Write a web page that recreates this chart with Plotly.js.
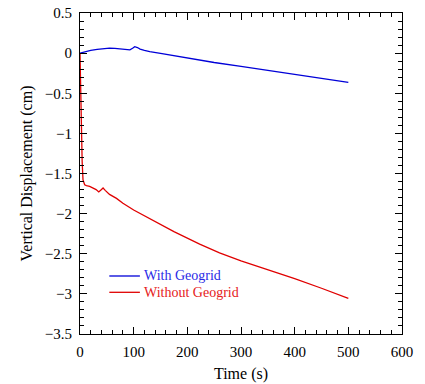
<!DOCTYPE html>
<html>
<head>
<meta charset="utf-8">
<script src="https://cdn.plot.ly/plotly-3.0.1.min.js"></script>
<style>html,body{margin:0;padding:0;background:#fff;}#chart{width:425px;height:384px;}</style>
</head>
<body>
<div id="chart"></div>
<script>
// Time (s) and vertical displacement (cm)
var timeWith = [0, 5, 10, 20, 32, 45, 55, 65, 75, 85, 93, 98, 102, 107, 112, 120, 130, 150, 175, 200, 223, 250, 300, 350, 400, 450, 500];
var dispWith = [0, 0.01, 0.02, 0.035, 0.047, 0.058, 0.062, 0.06, 0.05, 0.045, 0.04, 0.06, 0.08, 0.07, 0.05, 0.035, 0.018, -0.002, -0.032, -0.065, -0.09, -0.117, -0.166, -0.216, -0.265, -0.315, -0.364];

var timeWithout = [0, 1, 2.5, 4, 5.6, 8.7, 12, 18, 30, 35, 40, 43, 47, 55, 68, 80, 100, 130, 175, 223, 260, 300, 350, 400, 450, 500];
var dispWithout = [0, -0.4, -1.08, -1.35, -1.58, -1.64, -1.65, -1.66, -1.70, -1.73, -1.70, -1.68, -1.71, -1.76, -1.81, -1.87, -1.955, -2.06, -2.225, -2.38, -2.49, -2.59, -2.70, -2.81, -2.93, -3.055];

var seriesNames = ['With Geogrid', 'Without Geogrid'];
var seriesColors = ['#0000d8', '#e00000'];
var textColors = ['#2a2ae6', '#e62020'];

var font = 'Liberation Serif';

var traces = [
  {x: timeWith, y: dispWith, mode: 'lines', line: {color: seriesColors[0], width: 1.3}, name: seriesNames[0]},
  {x: timeWithout, y: dispWithout, mode: 'lines', line: {color: seriesColors[1], width: 1.3}, name: seriesNames[1]}
];

// legend drawn as keys + labels (paper coordinates)
var legendRows = [0.1807, 0.1299];
var shapes = [], annotations = [];
for (var i = 0; i < seriesNames.length; i++) {
  shapes.push({type: 'line', xref: 'paper', yref: 'paper', x0: 0.091, x1: 0.186,
               y0: legendRows[i], y1: legendRows[i], line: {color: seriesColors[i], width: 1.3}});
  annotations.push({xref: 'paper', yref: 'paper', x: 0.195, y: legendRows[i], xanchor: 'left', yanchor: 'middle',
                    showarrow: false, borderpad: 0, text: seriesNames[i],
                    font: {family: font, size: 14, color: textColors[i]}});
}

var axisCommon = {
  showgrid: false, zeroline: false, showline: true, linecolor: '#000', linewidth: 1,
  mirror: 'ticks', ticks: 'inside', ticklen: 7, tickwidth: 1, tickcolor: '#000',
  ticklabelstandoff: 4,
  tickfont: {family: font, size: 15, color: '#000'}
};

var layout = {
  width: 425, height: 384,
  margin: {l: 80, r: 23, t: 13, b: 50},
  paper_bgcolor: '#fff', plot_bgcolor: '#fff',
  font: {family: font, color: '#000'},
  showlegend: false,
  shapes: shapes,
  annotations: annotations,
  xaxis: Object.assign({}, axisCommon, {
    range: [0, 600], tick0: 0, dtick: 100,
    minor: {dtick: 20, ticklen: 4, tickwidth: 1, tickcolor: '#000', ticks: 'inside'},
    title: {text: 'Time (s)', font: {family: font, size: 16, color: '#000'}, standoff: 8}
  }),
  yaxis: Object.assign({}, axisCommon, {
    range: [-3.5, 0.5], tick0: 0, dtick: 0.5,
    minor: {dtick: 0.1, ticklen: 4, tickwidth: 1, tickcolor: '#000', ticks: 'inside'},
    title: {text: 'Vertical Displacement (cm)', font: {family: font, size: 16, color: '#000'}, standoff: 8}
  })
};

Plotly.newPlot('chart', traces, layout, {displayModeBar: false, staticPlot: true});
</script>
</body>
</html>
